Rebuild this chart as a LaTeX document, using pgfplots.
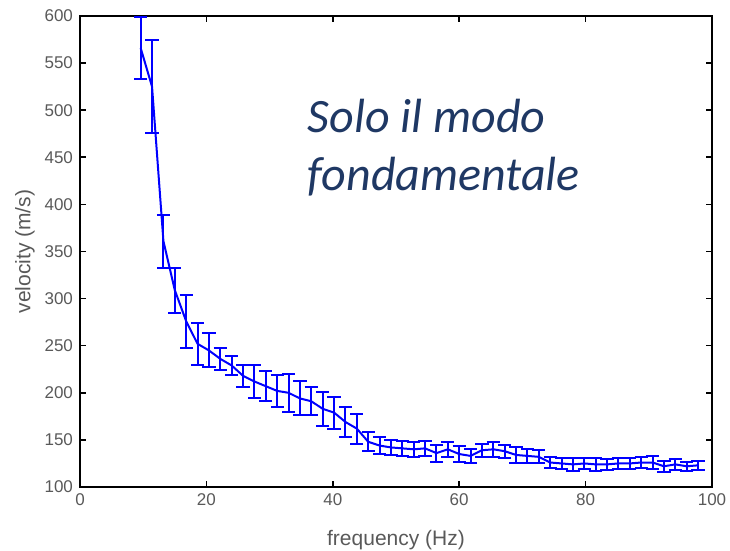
\documentclass[border=0pt]{standalone}
\usepackage{fontspec}
\setmainfont{Liberation Sans}
\newfontfamily\calibri{Carlito}
\usepackage{pgfplots}
\usepackage{pgfplotstable}
\pgfplotsset{compat=1.18}
\definecolor{navy}{HTML}{1F3864}
\pgfplotstableread{
f v e
9.6 566 33
11.4 525 49
13.2 361 28
15.0 309 24
16.8 276 28
18.6 252 22
20.4 245 18
22.2 236 12
24.0 229 10
25.8 218 12
27.6 212 18
29.4 207 16
31.2 202 17
33.0 200 20
34.8 194 18
36.6 191 15
38.4 183 18
40.2 179 17
42.0 169 16
43.8 162 16
45.6 148 10
47.4 144 9
49.2 142 8
51.0 141 8
52.8 140 8
54.6 141 8
56.4 136 9
58.2 140 8
60.0 135 8
61.8 133 7
63.6 139 7
65.4 140 8
67.2 138 7
69.0 134 8
70.8 133 7
72.6 132 7
74.4 126 6
76.2 125 6
78.0 124 7
79.8 125 6
81.6 124 7
83.4 124 6
85.2 125 6
87.0 125 6
88.8 126 6
90.6 126 7
92.4 122 6
94.2 124 6
96.0 122 5
97.8 123 5
}\datatable
\begin{document}
\begin{tikzpicture}
\useasboundingbox (-40pt,-32pt) rectangle (325pt,243.5pt);
\begin{axis}[
  scale only axis,
  width=316pt, height=235.5pt,
  xmin=0, xmax=100, ymin=100, ymax=600,
  xtick={0,20,...,100},
  ytick={100,150,...,600},
  tick align=inside,
  major tick length=3pt,
  axis line style={line width=1pt},
  every tick/.style={black, line width=0.8pt},
  tick label style={font=\fontsize{8.5}{10}\selectfont, text=black!65},
  /pgf/number format/assume math mode=true,
  xlabel={frequency (Hz)},
  ylabel={velocity (m/s)},
  label style={font=\fontsize{10.5}{12}\selectfont, text=black!65},
  xlabel style={yshift=-5pt},
  ylabel style={yshift=-2pt},
  clip=false,
]
\addplot[color=blue, draw=blue, line width=1pt, mark=none,
  error bars/.cd, y dir=both, y explicit,
  error bar style={draw=blue, color=blue, line width=1pt},
  error mark options={draw=blue, color=blue, line width=1pt, mark size=3.3pt, rotate=90}]
  table[x=f, y=v, y error=e] {\datatable};
\node[anchor=base west, text=navy, font=\calibri\itshape\fontsize{24}{28}\selectfont, inner sep=0pt] at (axis cs:36,476) {Solo il modo};
\node[anchor=base west, text=navy, font=\calibri\itshape\fontsize{24}{28}\selectfont, inner sep=0pt] at (axis cs:36,415) {fondamentale};
\end{axis}
\end{tikzpicture}
\end{document}
